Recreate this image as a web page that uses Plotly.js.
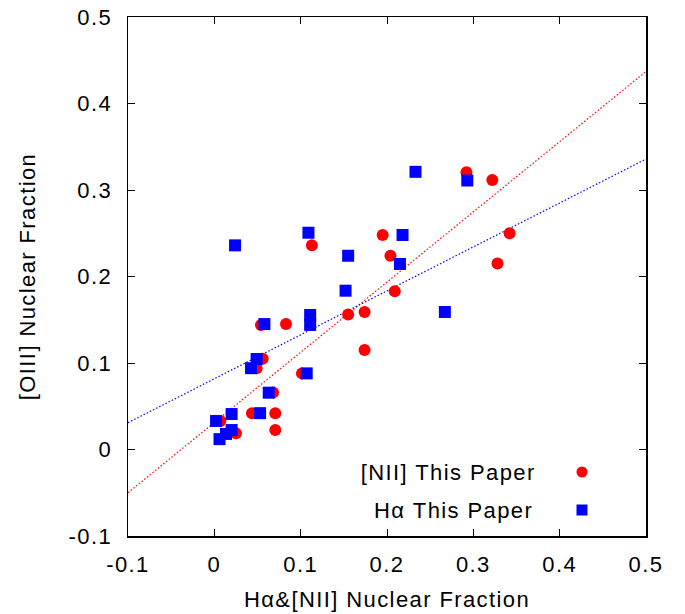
<!DOCTYPE html>
<html>
<head>
<meta charset="utf-8">
<script src="https://cdn.plot.ly/plotly-3.0.1.min.js"></script>
<style>
html,body{margin:0;padding:0;background:#fff;}
#chart{width:685px;height:614px;}
#chart text{letter-spacing:1.4px;}
</style>
</head>
<body>
<div id="chart"></div>
<script>
// [NII] This Paper (red circles)
const niiX = [0.292, 0.322, 0.342, 0.328, 0.195, 0.204, 0.209, 0.113, 0.155, 0.174, 0.174,
              0.083, 0.054, 0.056, 0.049, 0.1015, 0.068, 0.0436, 0.0706, 0.0706, 0.025, 0.007];
const niiY = [0.3205, 0.3116, 0.250, 0.215, 0.248, 0.224, 0.183, 0.236, 0.156, 0.159, 0.115,
              0.145, 0.144, 0.105, 0.094, 0.088, 0.066, 0.042, 0.042, 0.0225, 0.0187, 0.033];
// Halpha This Paper (blue squares)
const haX = [0.233, 0.293, 0.109, 0.024, 0.218, 0.155, 0.215, 0.152, 0.267, 0.111, 0.111,
             0.058, 0.049, 0.0425, 0.107, 0.063, 0.053, 0.020, 0.002, 0.020, 0.0135, 0.006];
const haY = [0.321, 0.311, 0.2506, 0.236, 0.248, 0.224, 0.2145, 0.1836, 0.159, 0.1555, 0.144,
             0.145, 0.1046, 0.094, 0.088, 0.0657, 0.042, 0.041, 0.033, 0.0225, 0.018, 0.012];
// Linear fits (slope, intercept)
const niiFit = [0.8117, 0.0312];
const haFit = [0.508, 0.0818];
const fitRange = [-0.1, 0.5];

const xTicks = [-0.1, 0, 0.1, 0.2, 0.3, 0.4, 0.5];
const xTickText = ['-0.1', '0', '0.1', '0.2', '0.3', '0.4', '0.5'];
const yTicks = [-0.1, 0, 0.1, 0.2, 0.3, 0.4, 0.5];
const yTickText = ['-0.1', '0', '0.1', '0.2', '0.3', '0.4', '0.5'];

const font = "Liberation Sans, Arial, Helvetica, sans-serif";
const fs = 22;

const traces = [
  {x: fitRange, y: fitRange.map(v => niiFit[0]*v + niiFit[1]), mode: 'lines',
   line: {color: 'rgb(255,0,0)', width: 1.2, dash: '1.5px,2px'}, showlegend: false, hoverinfo: 'skip'},
  {x: fitRange, y: fitRange.map(v => haFit[0]*v + haFit[1]), mode: 'lines',
   line: {color: 'rgb(0,0,255)', width: 1.2, dash: '1.5px,2px'}, showlegend: false, hoverinfo: 'skip'},
  {x: niiX, y: niiY, mode: 'markers', name: '[NII] This Paper',
   marker: {symbol: 'circle', size: 12, color: 'rgb(255,0,0)', line: {width: 0}}, showlegend: false},
  {x: haX, y: haY, mode: 'markers', name: 'H\u03b1 This Paper',
   marker: {symbol: 'square', size: 12, color: 'rgb(0,0,255)', line: {width: 0}}, showlegend: false}
];

const axisCommon = {
  showgrid: false, zeroline: false, showline: true, linecolor: '#000', linewidth: 1.5,
  mirror: 'ticks', ticks: 'inside', ticklen: 7, tickwidth: 1, tickcolor: '#000',
  tickfont: {family: font, size: fs, color: '#000'}
};

const layout = {
  width: 685, height: 614,
  margin: {l: 128, r: 39, t: 17, b: 78},
  paper_bgcolor: '#fff', plot_bgcolor: '#fff',
  font: {family: font, color: '#000'},
  xaxis: Object.assign({}, axisCommon, {
    range: [-0.1, 0.5], tickvals: xTicks, ticktext: xTickText, ticklabelstandoff: 8,
    title: {text: 'H\u03b1&amp;[NII] Nuclear Fraction', font: {family: font, size: fs, color: '#000'}, standoff: 15}
  }),
  yaxis: Object.assign({}, axisCommon, {
    range: [-0.1, 0.5], tickvals: yTicks, ticktext: yTickText, ticklabelstandoff: 10,
    title: {text: '[OIII] Nuclear Fraction', font: {family: font, size: fs, color: '#000'}, standoff: 32}
  }),
  annotations: [
    {xref: 'paper', yref: 'paper', x: (526-128)/518, y: (536-472)/519, xanchor: 'right', yanchor: 'middle',
     text: '[NII] This Paper', showarrow: false, font: {family: font, size: fs, color: '#000'}},
    {xref: 'paper', yref: 'paper', x: (526-128)/518, y: (536-510)/519, xanchor: 'right', yanchor: 'middle',
     text: 'H\u03b1 This Paper', showarrow: false, font: {family: font, size: fs, color: '#000'}}
  ],
  shapes: [
    {type: 'circle', xref: 'paper', yref: 'paper', fillcolor: 'rgb(255,0,0)', line: {width: 0},
     x0: (576.5-128)/518, x1: (587.5-128)/518, y0: (536-477.5)/519, y1: (536-466.5)/519},
    {type: 'rect', xref: 'paper', yref: 'paper', fillcolor: 'rgb(0,0,255)', line: {width: 0},
     x0: (576.5-128)/518, x1: (587.5-128)/518, y0: (536-515.5)/519, y1: (536-504.5)/519}
  ],
  showlegend: false
};

Plotly.newPlot('chart', traces, layout, {staticPlot: true, displayModeBar: false});
</script>
</body>
</html>
